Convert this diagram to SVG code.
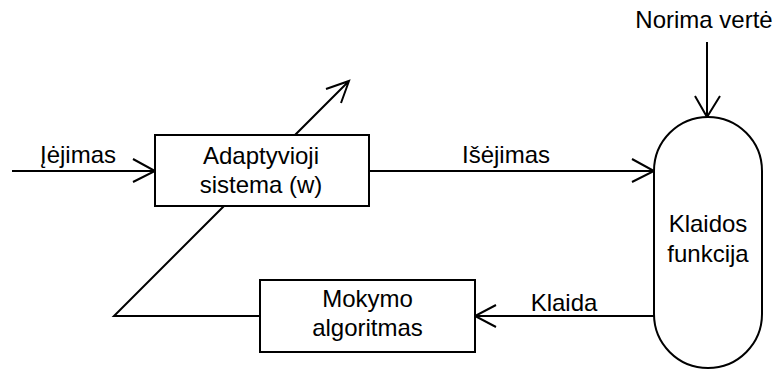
<svg xmlns="http://www.w3.org/2000/svg" width="779" height="371" viewBox="0 0 779 371">
<style>
.ln{stroke:#000;stroke-width:2;fill:none}
.nd{stroke:#000;stroke-width:2;fill:#fff}
text{font-family:"Liberation Sans",Arial,sans-serif;font-size:24px;fill:#000;text-anchor:middle}
</style>
<g id="connectors">
<path class="ln" d="M12,171 H155 M133,159 L155,171 L133,182"/>
<path class="ln" d="M260,316 H114 L349,81 M326,89 L349,81 L341,103"/>
<path class="ln" d="M369,171 H654 M632,159 L654,171 L632,182"/>
<path class="ln" d="M707,42 V117 M695,96 L707,117 L720,96"/>
<path class="ln" d="M654,316 H475 M496,305 L475,316 L496,327"/>
<text x="78" y="163">Įėjimas</text>
<text x="506" y="163">Išėjimas</text>
<text x="564" y="311">Klaida</text>
<text x="704" y="28">Norima vertė</text>
</g>
<g id="adaptyvioji">
<rect class="nd" x="155" y="135" width="214" height="71"/>
<text x="261" y="164">Adaptyvioji</text>
<text x="261" y="193">sistema (w)</text>
</g>
<g id="mokymo">
<rect class="nd" x="260" y="280" width="215" height="72"/>
<text x="367.5" y="307">Mokymo</text>
<text x="367.5" y="336">algoritmas</text>
</g>
<g id="klaidos">
<rect class="nd" x="654" y="117" width="108" height="251" rx="54" ry="54"/>
<text x="708" y="232">Klaidos</text>
<text x="708" y="262">funkcija</text>
</g>
</svg>
